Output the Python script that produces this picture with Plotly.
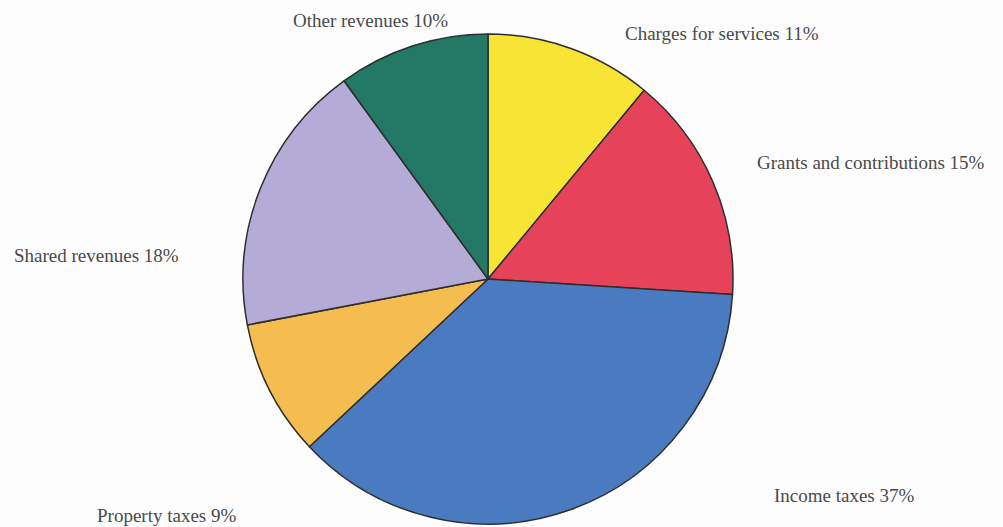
import plotly.graph_objects as go

# Revenue sources, clockwise from 12 o'clock
categories = [
    "Charges for services",
    "Grants and contributions",
    "Income taxes",
    "Property taxes",
    "Shared revenues",
    "Other revenues",
]
shares = [11, 15, 37, 9, 18, 10]

slice_colors = ["#F7E435", "#E6435A", "#4A7BC1", "#F5BD4F", "#B4ABD7", "#247866"]

# Label centres in pixels (x, y from top) for a 1003x527 canvas
label_xy = [
    (722, 33),
    (871, 162),
    (844, 495),
    (166, 515),
    (96, 255),
    (370, 20),
]

W, H = 1003, 527
cx, cy, r = 488, 279, 245

fig = go.Figure(
    go.Pie(
        labels=categories,
        values=shares,
        sort=False,
        direction="clockwise",
        rotation=0,
        marker=dict(colors=slice_colors, line=dict(color="#2e2e2e", width=1.5)),
        textinfo="none",
        hoverinfo="label+percent",
        showlegend=False,
        domain=dict(
            x=[(cx - r) / W, (cx + r) / W],
            y=[(H - (cy + r)) / H, (H - (cy - r)) / H],
        ),
    )
)

for name, val, (lx, ly) in zip(categories, shares, label_xy):
    fig.add_annotation(
        x=lx / W,
        y=1 - ly / H,
        xref="paper",
        yref="paper",
        text=f"{name} {val}%",
        showarrow=False,
        xanchor="center",
        yanchor="middle",
        font=dict(family="Times New Roman", size=19, color="#4a4a4a"),
    )

fig.update_layout(
    width=W,
    height=H,
    margin=dict(l=0, r=0, t=0, b=0),
    paper_bgcolor="#fdfdfd",
    plot_bgcolor="#fdfdfd",
    font=dict(family="Times New Roman"),
)

fig.write_html("out.html")
